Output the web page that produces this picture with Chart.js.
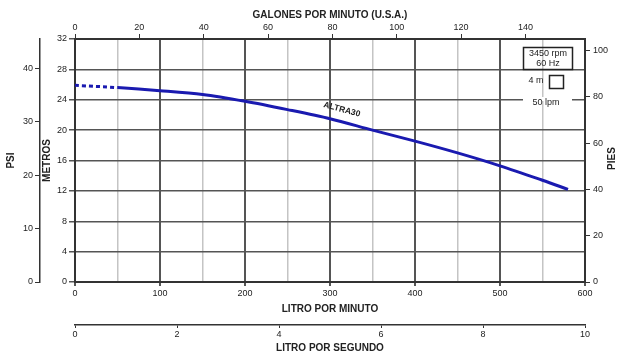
<!DOCTYPE html>
<html>
<head>
<meta charset="utf-8">
<script src="https://cdn.jsdelivr.net/npm/chart.js@4.4.1/dist/chart.umd.min.js"></script>
<style>
  html, body { margin: 0; padding: 0; background: #fff; }
  canvas { display: block; }
</style>
</head>
<body>
<canvas id="curva" width="622" height="357"></canvas>
<script>
// curva ALTRA30 (litros/minuto -> metros)
const caudalLpm = [0, 50, 100, 150, 200, 250, 300, 350, 400, 450, 500, 550, 580];
const alturaM   = [25.9, 25.6, 25.2, 24.7, 23.8, 22.7, 21.5, 20.0, 18.55, 17.0, 15.3, 13.4, 12.2];

// ticks de cada eje
const lpmTicks    = [0, 50, 100, 150, 200, 250, 300, 350, 400, 450, 500, 550, 600];
const metrosTicks = [0, 4, 8, 12, 16, 20, 24, 28, 32];
const gpmTicks    = [0, 20, 40, 60, 80, 100, 120, 140];
const psiTicks    = [0, 10, 20, 30, 40];
const piesTicks   = [0, 20, 40, 60, 80, 100];
const lpsTicks    = [0, 2, 4, 6, 8, 10];

const LPM_MAX = 600, M_MAX = 32;
const LPM_POR_GPM = 3.78541, M_POR_PSI = 0.70307, M_POR_PIE = 0.3048;

const familia = "'Liberation Sans Narrow', 'Liberation Sans', Arial, sans-serif";
const fTick = { family: familia, size: 9 };
const fTitulo = { family: familia, size: 10, weight: 'bold' };
const oscuro = '#555', claro = '#c4c4c4', texto = '#222';

const fijarTicks = arr => s => { s.ticks = arr.map(v => ({ value: v })); };
const ancho = w => s => { s.width = w; };
const alto = h => s => { s.height = h; };

// textos sueltos: titulo PIES, etiqueta de la curva y cuadro de datos
const notas = {
  id: 'notas',
  afterDraw(chart) {
    const { ctx, chartArea: a, scales } = chart;
    ctx.save();
    ctx.fillStyle = texto;
    ctx.textAlign = 'center';
    ctx.textBaseline = 'middle';

    ctx.save();
    ctx.font = 'bold 10px ' + familia;
    ctx.translate(612, (a.top + a.bottom) / 2 - 2);
    ctx.rotate(-Math.PI / 2);
    ctx.fillText('PIES', 0, 0);
    ctx.restore();

    ctx.save();
    ctx.font = 'bold 8.5px ' + familia;
    ctx.translate(scales.x.getPixelForValue(314), scales.y.getPixelForValue(22.7));
    ctx.rotate(15 * Math.PI / 180);
    ctx.fillText('ALTRA30', 0, 0);
    ctx.restore();

    const bx = a.right - 62;
    ctx.fillStyle = '#fff';
    ctx.fillRect(bx, a.top + 58, 49, 4);
    ctx.strokeStyle = '#222';
    ctx.lineWidth = 1.5;
    ctx.strokeRect(bx + 0.5, a.top + 8.5, 49, 22);
    ctx.strokeRect(bx + 26.5, a.top + 36.5, 14, 13);
    ctx.fillStyle = texto;
    ctx.font = '9px ' + familia;
    ctx.fillText('3450 rpm', bx + 25, a.top + 15);
    ctx.fillText('60 Hz', bx + 25, a.top + 25);
    ctx.fillText('4 m', bx + 13, a.top + 42);
    ctx.fillText('50 lpm', bx + 23, a.top + 64);
    ctx.restore();
  }
};

new Chart(document.getElementById('curva'), {
  type: 'line',
  data: {
    datasets: [{
      label: 'ALTRA30',
      data: caudalLpm.map((q, i) => ({ x: q, y: alturaM[i] })),
      borderColor: '#1a1ab0',
      borderWidth: 3,
      pointRadius: 0,
      tension: 0.3,
      fill: false,
      segment: {
        borderDash: c => c.p1.parsed.x <= 50 ? [4, 3] : undefined
      }
    }]
  },
  options: {
    responsive: false,
    animation: false,
    devicePixelRatio: 1,
    layout: { padding: 0 },
    plugins: { legend: { display: false }, tooltip: { enabled: false } },
    scales: {
      x: {
        type: 'linear', position: 'bottom', weight: 0,
        min: 0, max: LPM_MAX,
        afterBuildTicks: fijarTicks(lpmTicks),
        afterFit: alto(43),
        grid: {
          color: c => c.tick && c.tick.value % 100 ? claro : oscuro,
          tickColor: c => c.tick && c.tick.value % 100 ? 'transparent' : oscuro,
          lineWidth: c => c.tick && c.tick.value % 100 ? 1.5 : 2,
          tickLength: 4
        },
        border: { color: '#333', width: 2 },
        ticks: { font: fTick, color: texto, padding: 2, maxRotation: 0,
          callback: v => v % 100 ? '' : v },
        title: { display: true, text: 'LITRO POR MINUTO', font: fTitulo, color: texto,
          padding: { top: 0, bottom: 10 } }
      },
      lps: {
        type: 'linear', position: 'bottom', weight: 1,
        min: 0, max: LPM_MAX / 60,
        afterBuildTicks: fijarTicks(lpsTicks),
        afterFit: alto(32),
        grid: { drawOnChartArea: false, color: '#333', tickLength: 3 },
        border: { color: '#333', width: 1.5 },
        ticks: { font: fTick, color: texto, padding: 1, maxRotation: 0 },
        title: { display: true, text: 'LITRO POR SEGUNDO', font: fTitulo, color: texto,
          padding: { top: 0, bottom: 3 } }
      },
      gpm: {
        type: 'linear', position: 'top',
        min: 0, max: LPM_MAX / LPM_POR_GPM,
        afterBuildTicks: fijarTicks(gpmTicks),
        afterFit: alto(39),
        grid: { drawOnChartArea: false, color: '#333', tickLength: 5 },
        border: { color: '#333', width: 2 },
        ticks: { font: fTick, color: texto, padding: 1, maxRotation: 0 },
        title: { display: true, text: 'GALONES POR MINUTO (U.S.A.)', font: fTitulo, color: texto,
          padding: { top: 9, bottom: 0 } }
      },
      y: {
        type: 'linear', position: 'left', weight: 0,
        min: 0, max: M_MAX,
        afterBuildTicks: fijarTicks(metrosTicks),
        afterFit: ancho(35),
        grid: { color: oscuro, lineWidth: 1.5, tickLength: 6 },
        border: { color: '#333', width: 2 },
        ticks: { font: fTick, color: texto, padding: 2 },
        title: { display: true, text: 'METROS', font: fTitulo, color: texto,
          padding: { top: 1, bottom: 0 } }
      },
      psi: {
        type: 'linear', position: 'left', weight: 1,
        min: 0, max: M_MAX / M_POR_PSI,
        afterBuildTicks: fijarTicks(psiTicks),
        afterFit: ancho(40),
        grid: { drawOnChartArea: false, color: '#333', tickLength: 5 },
        border: { color: '#333', width: 1.5 },
        ticks: { font: fTick, color: texto, padding: 2 },
        title: { display: true, text: 'PSI', font: fTitulo, color: texto,
          padding: { top: 5, bottom: 0 } }
      },
      pies: {
        type: 'linear', position: 'right',
        min: 0, max: M_MAX / M_POR_PIE,
        afterBuildTicks: fijarTicks(piesTicks),
        afterFit: ancho(37),
        grid: { drawOnChartArea: false, color: '#333', tickLength: 5 },
        border: { color: '#333', width: 2 },
        ticks: { font: fTick, color: texto, padding: 3 },
        title: { display: false }
      }
    }
  },
  plugins: [notas]
});
</script>
</body>
</html>
